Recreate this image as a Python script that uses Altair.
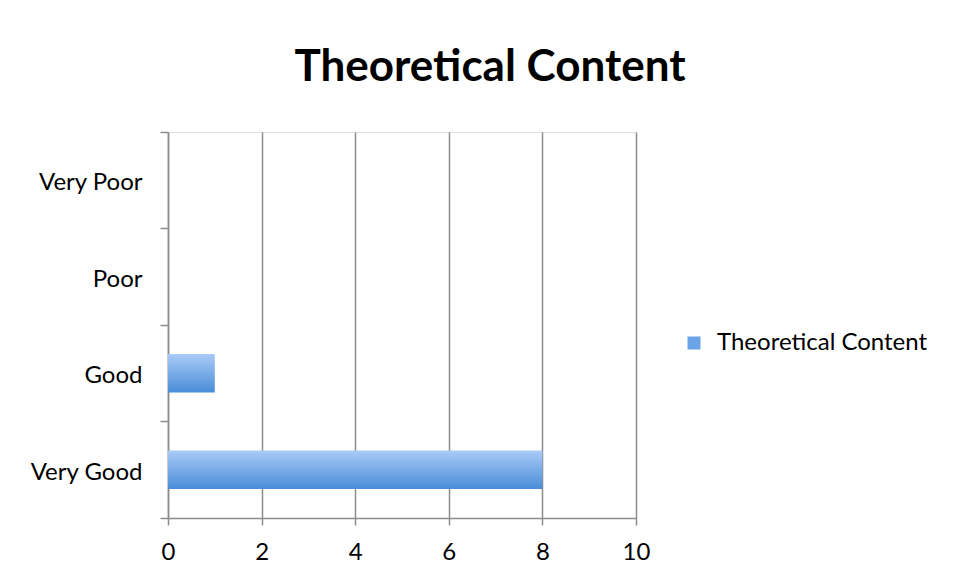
import altair as alt
import pandas as pd

categories = ["Very Poor", "Poor", "Good", "Very Good"]
values = [0, 0, 1, 8]
series_name = "Theoretical Content"
x_ticks = [0, 2, 4, 6, 8, 10]

df = pd.DataFrame({"rating": categories, "count": values, "series": [series_name] * len(categories)})

FONT = "Lato"
GRID = "#8c8c8c"

gradient = alt.Gradient(
    gradient="linear",
    stops=[alt.GradientStop(color="#a9cbf7", offset=0),
           alt.GradientStop(color="#4a8dd8", offset=1)],
    x1=0, x2=0, y1=0, y2=1,
)

y_enc = alt.Y(
    "rating:N", sort=categories,
    scale=alt.Scale(paddingInner=0, paddingOuter=0),
    axis=alt.Axis(title=None, bandPosition=1, tickExtra=True, tickSize=8,
                  tickColor=GRID, tickWidth=1.5, domainColor=GRID, domainWidth=1.5,
                  labelFontSize=24, labelPadding=18, labelFont=FONT, labelOffset=3,
                  labelColor="black", grid=False),
)
x_enc = alt.X(
    "count:Q", scale=alt.Scale(domain=[0, 10], nice=False),
    axis=alt.Axis(values=x_ticks, title=None, grid=True, gridColor=GRID, gridWidth=1.5,
                  tickSize=7, tickColor=GRID, tickWidth=1.5, domainColor=GRID, domainWidth=1.5,
                  labelFontSize=24, labelFont=FONT, labelColor="black", labelPadding=15,
                  labelFlush=False),
)

bars = alt.Chart(df).mark_bar(fill=gradient, height={"band": 0.4}).encode(x=x_enc, y=y_enc)

legend_layer = alt.Chart(df).mark_square(opacity=0).encode(
    x=alt.X("count:Q"),
    y=alt.Y("rating:N", sort=categories),
    color=alt.Color("series:N", scale=alt.Scale(range=["#6aa3e6"]),
                    legend=alt.Legend(title=None, orient="none", legendX=514, legendY=199,
                                      symbolType="square", symbolSize=169, symbolOpacity=1,
                                      symbolStrokeWidth=0, labelFontSize=24, labelFont=FONT,
                                      labelColor="black", labelLimit=400, labelOffset=11)),
)

chart = alt.layer(bars, legend_layer).properties(
    width=468, height=386,
    padding={"left": 160, "top": 124, "right": 316, "bottom": 50},
    autosize="none",
    title=alt.Title(series_name, fontSize=44, font=FONT, fontWeight="bold", color="black",
                    anchor="middle", dx=88, offset=30),
).configure_view(stroke=None).configure(background="white")

chart.save("out.html", embed_options={"renderer": "svg", "actions": False})
